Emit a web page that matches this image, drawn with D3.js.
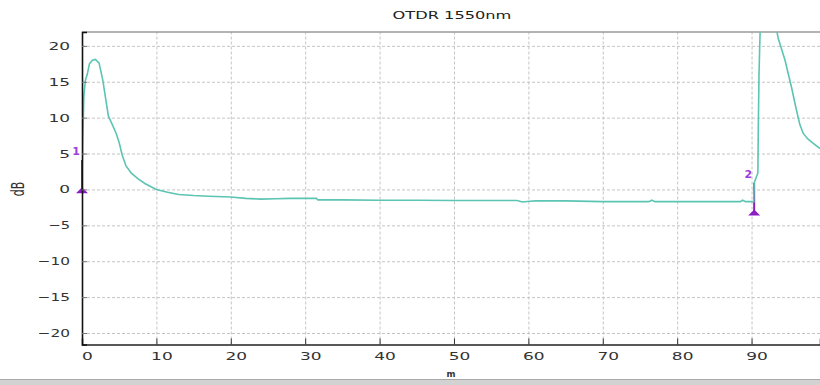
<!DOCTYPE html>
<html>
<head>
<meta charset="utf-8">
<script src="https://cdn.jsdelivr.net/npm/d3@7"></script>
<style>
  html, body { margin: 0; padding: 0; background: #fff; }
  svg { display: block; }
  text { font-family: "DejaVu Sans", sans-serif; }
</style>
</head>
<body>
<svg id="chart" width="820" height="385"></svg>
<script>
// ---- data ----
const title = "OTDR 1550nm";
const xLabel = "m";
const yLabel = "dB";
const xTicks = [0, 10, 20, 30, 40, 50, 60, 70, 80, 90];
const yTicks = [-20, -15, -10, -5, 0, 5, 10, 15, 20];
const traceX = [0, 0.1, 0.25, 0.45, 0.7, 1.0, 1.4, 1.8, 2.3, 2.8, 3.2, 3.55, 4.0, 4.6, 5.0, 5.4, 5.9, 6.6, 7.5, 8.5, 10, 11.5, 13, 15, 17, 20, 22, 24, 26, 28, 31.5, 31.7, 35, 40, 45, 50, 55, 58.5, 59.2, 60.2, 61, 65, 70, 76.2, 76.6, 77.0, 80, 85, 88.5, 88.8, 89.2, 90.3, 90.35, 90.85, 90.9, 91.0, 91.2, 91.6, 92.4, 93.3, 93.6, 94.5, 95.4, 96.0, 96.5, 96.95, 97.6, 98.3, 99.2];
const traceY = [1.5, 7, 13, 15.2, 16, 17.5, 18.0, 18.1, 17.6, 15.2, 12.5, 10.2, 9.2, 7.8, 6.5, 4.8, 3.3, 2.3, 1.5, 0.8, 0.0, -0.4, -0.7, -0.85, -0.95, -1.05, -1.25, -1.35, -1.3, -1.25, -1.25, -1.45, -1.45, -1.5, -1.5, -1.55, -1.55, -1.55, -1.75, -1.65, -1.6, -1.6, -1.7, -1.7, -1.5, -1.7, -1.7, -1.7, -1.7, -1.5, -1.7, -1.7, 0.9, 2.3, 8, 16, 24, 27, 27, 22.5, 21, 18, 14.1, 11.2, 9.0, 7.8, 7.0, 6.4, 5.7];
const markerNames = ["1", "2"];
const markerX = [0, 90.35];
const markerTop = [4.1, 0.9];
const markerBottom = [-0.4, -3.5];

// ---- layout ----
const svg = d3.select("#chart");
const pL = 82, pR = 820, pT = 32, pB = 344.5;
const x = d3.scaleLinear().domain([0, 99.2]).range([pL, pR]);
const y = d3.scaleLinear().domain([-21.6, 21.93]).range([pB, pT]);

const charW = 10.8;
function stretch(sel, w) {
  sel.each(function () {
    const t = d3.select(this).text();
    d3.select(this).attr("textLength", t.length * w).attr("lengthAdjust", "spacingAndGlyphs");
  });
}

svg.append("defs").append("clipPath").attr("id", "plotclip")
  .append("rect").attr("x", pL).attr("y", pT).attr("width", pR - pL).attr("height", pB - pT);

// grid
const gridG = svg.append("g");
gridG.append("g").attr("transform", `translate(0,${pB})`)
  .call(d3.axisBottom(x).tickValues(xTicks.filter(d => d > 0)).tickSize(-(pB - pT)).tickFormat(""))
  .call(g => g.select(".domain").remove())
  .call(g => g.selectAll("line").attr("stroke", "#c4c4c4").attr("stroke-dasharray", "3,2"));
gridG.append("g").attr("transform", `translate(${pL},0)`)
  .call(d3.axisLeft(y).tickValues(yTicks).tickSize(-(pR - pL)).tickFormat(""))
  .call(g => g.select(".domain").remove())
  .call(g => g.selectAll("line").attr("stroke", "#c4c4c4").attr("stroke-dasharray", "3,2"));

// top border
svg.append("line").attr("x1", pL).attr("x2", pR).attr("y1", pT).attr("y2", pT)
  .attr("stroke", "#9a9a9a").attr("stroke-width", 1.6);

// markers
const mk = svg.append("g");
markerX.forEach((mx, i) => {
  const px = x(mx);
  mk.append("line").attr("x1", px).attr("x2", px)
    .attr("y1", y(markerTop[i])).attr("y2", y(markerBottom[i]))
    .attr("stroke", "#8c1cc4").attr("stroke-width", 2);
  const yb = y(markerBottom[i]);
  mk.append("path")
    .attr("d", `M${px},${yb - 5} L${px + 6},${yb + 1} L${px - 6},${yb + 1} Z`)
    .attr("fill", "#8c1cc4");
  mk.append("text").attr("x", px - 2).attr("y", y(markerTop[i]) - 5)
    .attr("text-anchor", "end").attr("font-size", 11).attr("font-weight", "bold")
    .attr("fill", "#a040d8").text(markerNames[i]);
});

// trace
const pts = traceX.map((d, i) => [d, traceY[i]]);
svg.append("path").datum(pts)
  .attr("clip-path", "url(#plotclip)")
  .attr("fill", "none").attr("stroke", "#5cc4b2").attr("stroke-width", 1.6)
  .attr("d", d3.line().x(d => x(d[0])).y(d => y(d[1])));

// axes
const xAxis = svg.append("g").attr("transform", `translate(0,${pB})`)
  .call(d3.axisBottom(x).tickValues(xTicks).tickSize(-6).tickPadding(8));
xAxis.select(".domain").attr("stroke", "#222").attr("stroke-width", 1.5);
xAxis.selectAll(".tick line").attr("stroke", "#333");
xAxis.selectAll("text").attr("font-size", 11).attr("fill", "#333").attr("dx", 5)
  .attr("font-family", "DejaVu Sans, sans-serif").call(stretch, charW);

const yAxis = svg.append("g").attr("transform", `translate(${pL},0)`)
  .call(d3.axisLeft(y).tickValues(yTicks).tickSize(-5).tickPadding(12));
yAxis.select(".domain").attr("stroke", "#111").attr("stroke-width", 1.6);
yAxis.selectAll(".tick line").attr("stroke", "#777");
yAxis.selectAll("text").attr("font-size", 11).attr("fill", "#333")
  .attr("font-family", "DejaVu Sans, sans-serif").call(stretch, charW);

// title and axis labels
svg.append("text").attr("x", 452).attr("y", 18.5).attr("text-anchor", "middle")
  .attr("font-size", 11).attr("fill", "#222").text(title).call(stretch, charW);
svg.append("text").attr("x", 451).attr("y", 377).attr("text-anchor", "middle")
  .attr("font-size", 8).attr("font-weight", "bold").attr("fill", "#333").text(xLabel)
  .attr("textLength", 9).attr("lengthAdjust", "spacingAndGlyphs");
svg.append("text").attr("transform", "translate(24,189) rotate(-90) scale(1,1.6)")
  .attr("text-anchor", "middle").attr("font-size", 11).attr("fill", "#333").text(yLabel);

// bottom bar
svg.append("rect").attr("x", 0).attr("y", 379.5).attr("width", 820).attr("height", 6).attr("fill", "#d2d2d2");
svg.append("line").attr("x1", 0).attr("x2", 820).attr("y1", 379.5).attr("y2", 379.5).attr("stroke", "#a8a8a8");
</script>
</body>
</html>
